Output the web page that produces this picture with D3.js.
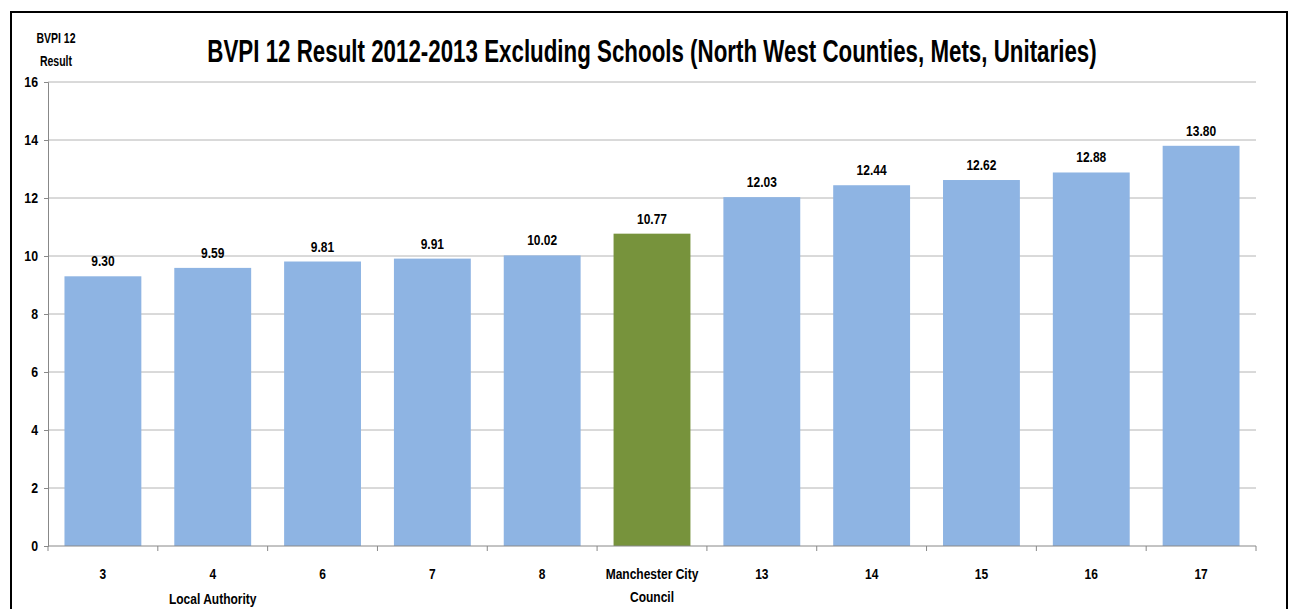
<!DOCTYPE html>
<html>
<head>
<meta charset="utf-8">
<script src="https://cdn.jsdelivr.net/npm/d3@7"></script>
<style>
  body { margin: 0; background: #fff; }
  text { font-family: "Liberation Sans Narrow", "Arial Narrow", "Liberation Sans", Arial, sans-serif; font-weight: bold; fill: #000; }
</style>
</head>
<body>
<script>
// Chart data
const categories = ["3", "4", "6", "7", "8", "Manchester City Council", "13", "14", "15", "16", "17"];
const values = [9.30, 9.59, 9.81, 9.91, 10.02, 10.77, 12.03, 12.44, 12.62, 12.88, 13.80];
const yTicks = [0, 2, 4, 6, 8, 10, 12, 14, 16];
const highlight = "Manchester City Council";

const width = 1295, height = 609;
const margin = { left: 48, right: 39, top: 82, bottom: 63 };

const svg = d3.select("body").append("svg")
    .attr("width", width)
    .attr("height", height);

// squeeze text horizontally, no narrow font installed
function narrow(sel, k) {
    sel.each(function() {
        const len = this.getComputedTextLength();
        d3.select(this).attr("textLength", len * k).attr("lengthAdjust", "spacingAndGlyphs");
    });
}

// outer frame
svg.append("rect")
    .attr("x", 11).attr("y", 12)
    .attr("width", 1276).attr("height", 620)
    .attr("fill", "none")
    .attr("stroke", "#000")
    .attr("stroke-width", 2);

const x = d3.scaleBand()
    .domain(categories)
    .range([margin.left, width - margin.right])
    .paddingInner(0.3)
    .paddingOuter(0.15);

const y = d3.scaleLinear()
    .domain([0, 16])
    .range([height - margin.bottom, margin.top]);

// gridlines
svg.append("g")
    .selectAll("line")
    .data(yTicks.filter(d => d > 0))
    .join("line")
    .attr("x1", margin.left)
    .attr("x2", width - margin.right)
    .attr("y1", d => y(d))
    .attr("y2", d => y(d))
    .attr("stroke", "#b4b4b4")
    .attr("stroke-width", 1);

// bars
svg.append("g")
    .selectAll("rect")
    .data(categories)
    .join("rect")
    .attr("x", d => x(d))
    .attr("width", x.bandwidth())
    .attr("y", (d, i) => y(values[i]))
    .attr("height", (d, i) => y(0) - y(values[i]))
    .attr("fill", d => d === highlight ? "#77933c" : "#8eb4e3");

// value labels
svg.append("g")
    .selectAll("text")
    .data(categories)
    .join("text")
    .attr("x", d => x(d) + x.bandwidth() / 2)
    .attr("y", (d, i) => y(values[i]) - 10)
    .attr("text-anchor", "middle")
    .attr("font-size", 15)
    .text((d, i) => values[i].toFixed(2))
    .call(narrow, 0.8);

// y axis
const yAxis = svg.append("g")
    .attr("transform", `translate(${margin.left},0)`)
    .call(d3.axisLeft(y).tickValues(yTicks).tickSize(4).tickPadding(6).tickFormat(d3.format("d")));
yAxis.select(".domain").attr("stroke", "#888");
yAxis.selectAll(".tick line").attr("stroke", "#888");
yAxis.selectAll(".tick text").attr("font-size", 15).attr("font-family", null).attr("fill", "#000")
    .call(narrow, 0.82);

// x axis
const step = x.step();
const xAxis = svg.append("g")
    .attr("transform", `translate(0,${y(0)})`);
xAxis.append("line")
    .attr("x1", margin.left).attr("x2", width - margin.right)
    .attr("y1", 0).attr("y2", 0)
    .attr("stroke", "#888");
xAxis.selectAll("line.tk")
    .data(d3.range(categories.length + 1))
    .join("line")
    .attr("class", "tk")
    .attr("x1", i => margin.left + i * step)
    .attr("x2", i => margin.left + i * step)
    .attr("y1", 0).attr("y2", 5)
    .attr("stroke", "#888");

const labels = svg.append("g")
    .selectAll("text")
    .data(categories)
    .join("text")
    .attr("x", d => x(d) + x.bandwidth() / 2)
    .attr("y", 579)
    .attr("text-anchor", "middle")
    .attr("font-size", 15);
labels.each(function(d) {
    const t = d3.select(this);
    const cx = x(d) + x.bandwidth() / 2;
    if (d === highlight) {
        t.append("tspan").attr("x", cx).attr("dy", 0).text("Manchester City").call(narrow, 0.8);
        t.append("tspan").attr("x", cx).attr("dy", 23).text("Council").call(narrow, 0.8);
    } else {
        t.text(d).call(narrow, 0.8);
    }
});

// x axis title
svg.append("text")
    .attr("x", x("4") + x.bandwidth() / 2)
    .attr("y", 604)
    .attr("text-anchor", "middle")
    .attr("font-size", 15)
    .text("Local Authority")
    .call(narrow, 0.8);

// y axis title
svg.append("text")
    .attr("x", 56).attr("y", 43)
    .attr("text-anchor", "middle")
    .attr("font-size", 14)
    .text("BVPI 12")
    .call(narrow, 0.75);
svg.append("text")
    .attr("x", 56).attr("y", 66)
    .attr("text-anchor", "middle")
    .attr("font-size", 14)
    .text("Result")
    .call(narrow, 0.75);

// chart title, squeezed to the reference width with a scale
const title = svg.append("text")
    .attr("text-anchor", "middle")
    .attr("font-size", 32)
    .text("BVPI 12 Result 2012-2013 Excluding Schools (North West Counties, Mets, Unitaries)");
const titleLen = title.node().getComputedTextLength();
title.attr("transform", `translate(652,62) scale(${890 / titleLen},1)`);
</script>
</body>
</html>
